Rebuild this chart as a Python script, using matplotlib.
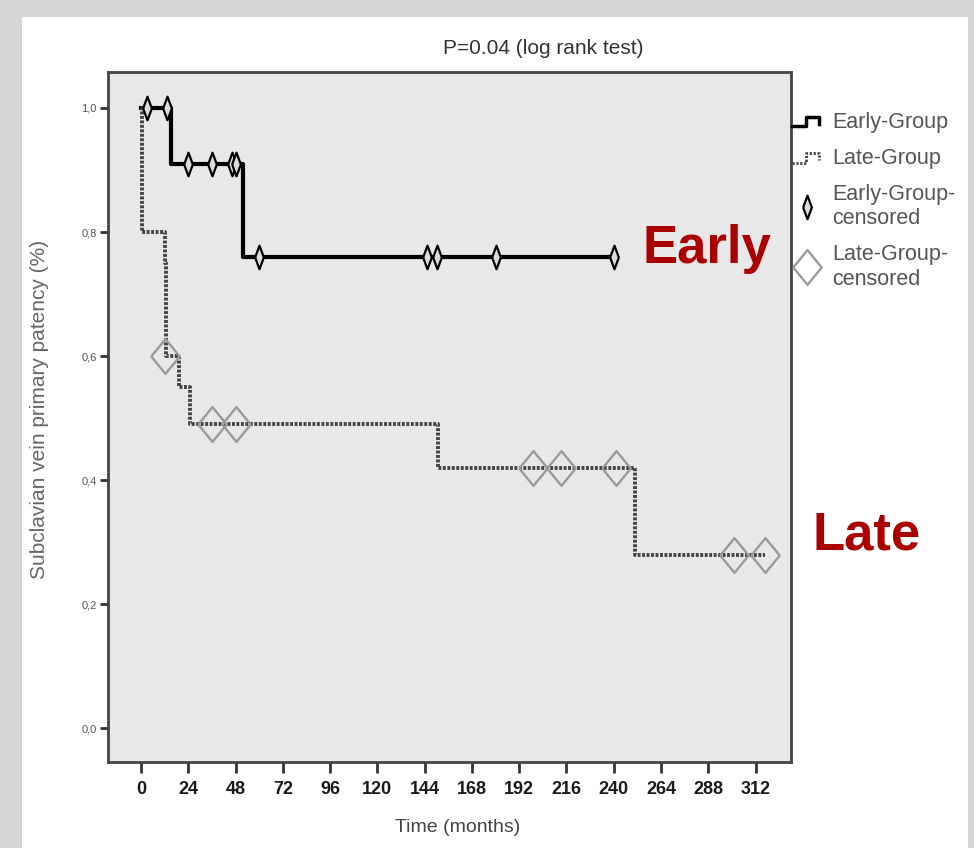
import matplotlib
matplotlib.use('Agg')
import matplotlib.pyplot as plt
from matplotlib.lines import Line2D
from matplotlib.patches import Rectangle
from matplotlib.legend_handler import HandlerBase

# Kaplan-Meier steps
early_t = [0, 15, 52, 240]
early_s = [1.0, 0.91, 0.76, 0.76]
late_t = [0, 0.5, 12, 12.7, 19, 25, 151, 251, 317]
late_s = [1.0, 0.8, 0.75, 0.6, 0.55, 0.49, 0.42, 0.28, 0.28]

# censored observations
early_cens_t = [3, 13, 24, 36, 46, 48, 60, 145, 150, 180, 240]
early_cens_s = [1.0, 1.0, 0.91, 0.91, 0.91, 0.91, 0.76, 0.76, 0.76, 0.76, 0.76]
late_cens_t = [12.2, 36, 48, 199, 213, 241, 301, 317]
late_cens_s = [0.6, 0.49, 0.49, 0.42, 0.42, 0.42, 0.28, 0.28]

x_ticks = list(range(0, 313, 24))
y_ticks = [0.0, 0.2, 0.4, 0.6, 0.8, 1.0]
y_labels = ['0,0', '0,2', '0,4', '0,6', '0,8', '1,0']
legend_labels = ['Early-Group', 'Late-Group', 'Early-Group-\ncensored', 'Late-Group-\ncensored']

font = ['Liberation Sans', 'DejaVu Sans']

thin_diamond = [(-0.37, 0), (0, 1), (0.37, 0), (0, -1), (-0.37, 0)]
wide_diamond = [(-0.82, 0), (0, 1), (0.82, 0), (0, -1), (-0.82, 0)]
late_dots = (0, (0.75, 0.4))


class StepHandler(HandlerBase):
    def __init__(self, **kw):
        self.kw = kw
        super().__init__()

    def create_artists(self, legend, orig_handle, xdescent, ydescent,
                       width, height, fontsize, trans):
        w, h = width, height
        xs = [0.05 * w, 0.45 * w, 0.45 * w, 0.85 * w, 0.85 * w]
        ys = [0.1 * h, 0.1 * h, 0.75 * h, 0.75 * h, 0.25 * h]
        ln = Line2D(xs, ys, transform=trans, **self.kw)
        return [ln]


fig = plt.figure(figsize=(9.74, 8.48), dpi=100, facecolor='#d6d6d6')
fig.patches.append(Rectangle((22 / 974, 0), (968 - 22) / 974, (848 - 17) / 848,
                             transform=fig.transFigure, facecolor='white',
                             edgecolor='none', zorder=-5))

ax = fig.add_axes([108 / 974, 86 / 848, (791 - 108) / 974, (762 - 72) / 848])
ax.set_zorder(2)
ax.set_facecolor('#e8e8e8')

ax.step(early_t, early_s, where='post', color='black', lw=3, zorder=3)
ax.step(late_t, late_s, where='post', color='#444444', lw=2.8,
        linestyle=late_dots, zorder=3)
ax.plot(early_cens_t, early_cens_s, linestyle='none', marker=thin_diamond,
        markersize=17, markerfacecolor='#dcdcdc', markeredgecolor='black',
        markeredgewidth=1.6, zorder=4)
ax.plot(late_cens_t, late_cens_s, linestyle='none', marker=wide_diamond,
        markersize=25, markerfacecolor='none', markeredgecolor='#9a9a9a',
        markeredgewidth=1.7, zorder=4)

ax.set_xlim(-16.8, 330)
ax.set_ylim(-0.054, 1.058)
ax.set_xticks(x_ticks)
ax.set_xticklabels([str(v) for v in x_ticks], family=font,
                   fontweight='bold', fontsize=13, color='#1a1a1a')
ax.set_yticks(y_ticks)
ax.set_yticklabels(y_labels, family=font, fontsize=8, color='#555555')
ax.tick_params(axis='x', direction='out', length=8, width=2, color='#333333', pad=6)
ax.tick_params(axis='y', direction='out', length=6, width=2, color='#333333', pad=2)
for sp in ax.spines.values():
    sp.set_linewidth(2)
    sp.set_color('#444444')

fig.text(543 / 974, 1 - 48 / 848, 'P=0.04 (log rank test)', family=font,
         fontsize=15, color='#333333', ha='center', va='center')
fig.text(458 / 974, 1 - 828 / 848, 'Time (months)', family=font,
         fontsize=14, color='#444444', ha='center', va='center')
fig.text(40 / 974, 1 - 409 / 848, 'Subclavian vein primary patency (%)', family=font,
         fontsize=15, color='#666666', ha='center', va='center', rotation=90)

fig.text(643 / 974, 1 - 263 / 848, 'Early', family=font, fontweight='bold',
         fontsize=38, color='#aa0000', ha='left', va='baseline')
fig.text(813 / 974, 1 - 550 / 848, 'Late', family=font, fontweight='bold',
         fontsize=38, color='#aa0000', ha='left', va='baseline')

h_early = Line2D([], [], color='black', lw=2.5)
h_late = Line2D([], [], color='#444444', lw=2)
h_ec = Line2D([], [], linestyle='none', marker=thin_diamond, markersize=17,
              markerfacecolor='#dcdcdc', markeredgecolor='black', markeredgewidth=1.6)
h_lc = Line2D([], [], linestyle='none', marker=wide_diamond, markersize=25,
              markerfacecolor='none', markeredgecolor='#9a9a9a', markeredgewidth=1.7)
leg = fig.legend([h_early, h_late, h_ec, h_lc], legend_labels,
                 loc='upper left', bbox_to_anchor=(790 / 974, 1 - 112 / 848),
                 frameon=False, prop={'family': font, 'size': 15.5},
                 handlelength=1.6, handletextpad=0.35, labelspacing=0.7,
                 borderaxespad=0, borderpad=0,
                 handler_map={h_early: StepHandler(color='black', lw=2.5),
                              h_late: StepHandler(color='#444444', lw=2,
                                                  linestyle=(0, (0.8, 0.6)))})
for t in leg.get_texts():
    t.set_color('#555555')
    t.set_linespacing(1.2)

fig.savefig('out.png', dpi=100, facecolor=fig.get_facecolor())
